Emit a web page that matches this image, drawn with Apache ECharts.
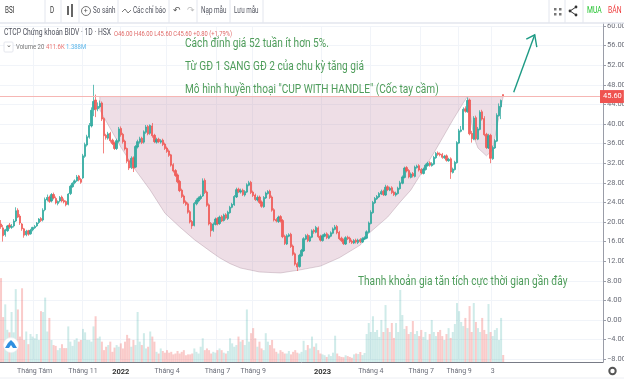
<!DOCTYPE html>
<html><head><meta charset="utf-8">
<style>html,body{margin:0;padding:0;background:#fff}#c{width:624px;height:381px}</style>
<script src="https://cdn.jsdelivr.net/npm/echarts@6/dist/echarts.min.js"></script>
</head><body><div id="c"></div>
<script>
const closes=[19.0,17.2,18.4,19.2,19.0,19.1,20.2,22.3,21.0,19.8,
18.6,17.3,18.1,17.5,18.3,18.9,19.1,19.8,20.6,20.3,
22.4,24.6,25.0,24.2,25.6,24.9,23.9,24.2,25.0,24.3,
24.1,23.5,25.7,27.3,27.9,28.4,29.2,28.6,28.1,33.5,
35.8,37.4,39.7,42.8,44.6,43.0,43.6,44.2,41.0,37.6,
37.2,38.0,36.6,36.0,35.0,36.6,39.0,37.8,36.4,34.9,
32.4,31.0,33.0,31.0,35.4,36.4,37.0,36.2,38.4,39.4,
38.0,39.7,37.6,36.4,36.8,36.4,36.6,35.8,35.0,34.4,
33.6,31.6,30.4,29.5,28.2,26.4,25.2,24.0,23.6,22.0,
20.0,19.2,23.8,24.4,24.9,25.2,28.4,26.0,23.4,19.6,
18.2,19.6,20.6,19.6,21.0,20.2,21.4,20.8,22.0,23.0,
23.6,25.2,26.6,26.2,26.4,25.6,26.2,27.6,28.0,26.0,
25.4,24.6,25.0,24.0,23.2,25.0,25.9,26.2,25.0,22.4,
20.4,20.2,21.0,20.2,17.0,15.6,17.2,17.4,15.0,13.4,
11.4,10.8,13.2,14.2,16.6,17.2,16.2,17.0,18.2,18.0,
18.9,17.0,16.3,17.2,17.5,16.8,17.2,17.8,18.6,19.0,
17.8,16.6,16.2,15.6,16.8,16.6,16.0,15.8,16.2,15.9,
16.3,16.0,16.6,16.8,18.0,19.8,22.0,24.0,24.8,25.2,
25.8,26.2,25.6,27.1,26.6,26.9,26.0,25.6,25.9,26.9,
28.0,29.2,31.0,30.4,29.2,29.8,29.4,31.2,31.4,30.6,
30.0,30.8,31.6,32.0,31.6,31.9,33.2,34.0,33.8,33.7,
33.2,33.4,32.6,32.8,30.2,30.8,32.2,36.2,38.6,38.8,
43.0,42.6,44.8,38.0,37.0,41.2,37.0,39.0,42.4,41.0,
37.8,35.2,37.6,33.0,35.2,36.6,41.8,43.6,44.8,45.6];
const opens=[19.6,18.8,17.4,18.2,19.4,18.9,19.2,20.2,22.4,21.2,
19.6,18.6,17.4,18.2,17.6,18.4,18.8,19.2,19.9,20.7,
20.4,22.5,24.5,25.1,24.3,25.6,24.8,23.8,24.3,25.1,
24.4,24.2,23.6,25.8,27.2,28.0,28.4,29.4,28.7,29.0,
33.4,35.7,37.3,39.6,42.9,44.9,43.1,43.5,44.3,41.1,
37.7,37.1,38.1,36.7,36.1,35.0,36.5,39.1,37.9,36.5,
35.0,32.5,31.1,33.1,31.2,35.3,36.3,37.1,36.3,38.3,
39.5,38.1,39.6,37.7,36.3,36.9,36.3,36.7,35.9,35.1,
34.5,33.7,31.7,30.5,29.6,28.3,26.5,25.3,24.1,23.7,
22.1,20.1,19.3,23.7,24.3,24.8,25.3,28.5,26.1,23.5,
19.7,18.3,19.5,20.7,19.7,21.1,20.3,21.5,20.7,21.9,
23.0,23.5,25.1,26.7,26.1,26.5,25.5,26.1,27.5,28.1,
26.1,25.5,24.5,25.1,24.1,23.1,24.9,25.8,26.3,25.1,
22.5,20.5,20.1,21.1,20.3,17.1,15.5,17.1,17.5,15.1,
13.5,11.5,10.9,13.1,14.1,16.5,17.3,16.1,16.9,18.3,
17.9,18.8,17.1,16.2,17.1,17.6,16.7,17.1,17.7,18.5,
19.1,17.9,16.7,16.3,15.5,16.9,16.7,16.1,15.7,16.3,
15.8,16.4,15.9,16.5,16.7,17.9,19.7,21.9,23.9,24.7,
25.1,25.7,26.3,25.5,27.2,26.5,27.0,26.1,25.5,25.8,
26.8,27.9,29.1,31.1,30.5,29.1,29.9,29.3,31.1,31.5,
30.7,29.9,30.7,31.5,32.1,31.5,31.8,33.1,34.1,33.9,
33.8,33.1,33.5,32.5,32.9,30.1,30.7,32.1,36.1,38.5,
38.9,43.1,42.5,44.9,38.1,36.9,41.3,36.9,38.9,42.5,
41.1,37.9,35.1,37.7,32.9,35.1,36.5,41.7,43.5,46.0];
const highs=[20.4,19.4,18.6,19.4,19.8,19.6,20.6,23.0,22.8,21.6,
19.8,18.8,18.4,18.4,18.6,19.0,19.4,20.0,20.8,21.0,
22.8,25.0,25.6,25.4,25.9,26.0,25.2,24.4,25.3,25.4,
24.8,24.4,25.9,27.6,28.1,28.7,29.6,29.6,29.0,33.9,
36.2,37.8,40.2,43.4,48.0,46.0,44.4,44.8,44.6,41.4,
38.0,38.4,38.4,37.0,36.4,37.0,39.4,39.5,38.2,36.8,
35.2,32.8,33.4,33.4,35.7,36.8,37.4,37.4,38.7,39.8,
39.8,39.9,40.2,38.0,37.2,37.2,36.9,37.0,36.2,35.4,
34.8,33.9,32.0,30.8,29.9,28.6,26.8,25.6,24.4,24.0,
22.4,20.4,24.1,24.8,25.2,25.6,28.9,28.9,26.4,23.8,
20.0,19.9,20.9,21.0,21.3,21.4,21.7,21.8,22.3,23.3,
23.9,25.5,27.0,27.0,26.8,26.8,26.5,27.9,28.4,28.4,
26.4,25.8,25.4,25.4,24.4,25.3,26.2,26.5,26.6,25.4,
22.8,20.8,21.3,21.4,20.6,17.4,17.5,17.7,17.8,15.4,
13.8,11.8,13.5,14.5,16.9,17.5,17.6,17.3,18.5,18.6,
19.2,19.1,17.4,17.5,17.8,17.9,17.5,18.1,18.9,19.4,
19.4,18.2,17.0,16.6,17.1,17.2,17.0,16.4,16.5,16.6,
16.6,16.7,16.9,17.1,18.3,20.1,22.4,24.3,25.1,25.5,
26.1,26.6,26.6,27.6,27.5,27.2,27.3,26.4,26.2,27.2,
28.4,29.5,31.3,31.4,30.8,30.1,30.2,31.5,31.7,31.8,
31.0,31.1,31.9,32.3,32.4,32.2,33.5,34.3,34.4,34.2,
34.1,33.7,33.8,33.1,33.2,31.1,32.5,36.5,39.0,39.6,
43.4,43.6,45.4,45.2,38.6,41.6,41.7,39.4,42.8,42.9,
41.6,38.2,38.0,38.0,35.6,36.9,42.2,44.2,45.0,46.0];
const lows=[18.6,16.0,17.0,18.0,18.6,18.6,18.9,20.0,20.8,19.4,
18.2,16.8,17.1,17.2,17.4,18.1,18.6,19.0,19.6,20.0,
20.1,22.2,24.2,23.9,24.0,24.6,23.6,23.4,24.0,24.0,
23.8,23.2,23.4,25.5,27.0,27.7,28.2,28.3,27.8,28.8,
33.1,35.4,37.0,39.3,41.6,41.4,42.6,43.2,40.6,34.0,
36.8,36.8,36.2,35.7,34.7,34.7,36.2,37.4,36.0,34.6,
32.0,30.6,30.8,30.2,31.0,35.0,36.0,35.9,36.0,38.0,
37.7,37.8,37.2,36.1,36.0,36.1,36.0,35.5,34.7,34.1,
33.3,31.3,30.1,29.2,27.9,26.1,24.9,23.7,23.3,21.7,
19.7,18.6,19.1,23.4,24.0,24.5,25.1,25.7,23.1,19.3,
17.0,18.0,19.3,19.3,19.4,20.0,20.1,20.5,20.4,21.7,
22.8,23.3,24.9,25.9,25.8,25.3,25.2,25.9,27.3,25.7,
25.1,24.3,24.2,23.7,22.9,22.9,24.7,25.6,24.7,22.1,
20.1,19.9,19.8,19.9,16.7,15.3,15.3,16.9,14.7,13.1,
11.1,10.0,10.7,12.9,13.9,16.3,15.9,15.9,16.7,17.6,
17.7,16.7,16.0,16.0,16.9,16.5,16.5,16.9,17.5,18.3,
17.5,16.3,15.9,15.3,15.3,16.3,15.7,15.5,15.5,15.6,
15.5,15.7,15.7,16.3,16.5,17.7,19.5,21.7,23.7,24.5,
24.9,25.5,25.3,25.3,26.3,26.3,25.7,25.3,25.2,25.6,
26.6,27.7,28.9,30.1,28.9,28.9,29.1,29.1,30.9,30.3,
29.7,29.7,30.5,31.3,31.3,31.3,31.6,32.9,33.5,33.4,
32.9,32.9,32.3,32.3,28.8,29.9,30.5,31.9,35.9,38.3,
38.7,42.3,42.3,37.7,36.2,36.7,36.7,36.7,38.7,40.7,
37.5,34.9,34.9,32.0,32.7,34.9,36.3,41.5,41.0,45.6];
const volumes=[4950,2650,3400,1900,1750,2950,1750,4300,3100,1500,
4350,1300,1800,1050,1650,1500,1400,1650,1300,3000,
2950,3800,1800,2600,1300,1000,950,700,820,1050,
820,820,2100,1200,950,1300,1400,1200,1300,1950,
1750,1300,1300,1200,2100,2700,1400,1500,1200,700,
900,1000,1200,600,850,1000,900,1100,800,1200,
1600,1400,900,1300,1000,2950,1200,1000,1700,800,
900,1800,1500,1200,600,500,800,650,550,700,
550,600,450,500,650,500,600,700,400,450,
450,500,800,600,500,900,1400,700,800,700,
500,600,550,700,800,700,550,500,650,1400,
1100,900,1000,1500,1200,1300,1000,3100,1200,1700,
2000,1400,900,1200,800,700,1700,1200,1000,1300,
800,600,500,700,600,500,500,650,450,600,
700,550,500,600,1250,700,1000,800,1500,900,
1100,700,500,450,400,300,450,350,550,1550,
500,350,300,280,400,350,300,250,450,500,
470,590,410,530,1650,2300,1770,2700,1770,1890,
1480,2480,1770,3360,2000,1770,2300,1420,2300,1770,
4250,2770,1950,2120,1650,1770,2420,1650,1830,1530,
1890,1480,1770,1300,1650,2480,1770,1530,1770,1890,
1530,1300,1650,2000,1420,1770,2240,3480,3000,2360,
2120,2600,2000,3300,1770,3480,2360,2000,1770,2600,
1890,1650,3420,1770,1530,1890,2000,1300,2600,412];
const slotCount=287;
const categories=Array.from({length:slotCount},(_,i)=>String(i));
const tickIndex=[16,39,57,79,103,120,153,176,200,218,234];
const tickText=['Tháng Tám','Tháng 11','2022','Tháng 4','Tháng 7','Tháng 9','2023','Tháng 4','Tháng 7','Tháng 9','3'];
const cupOutline=[[47,45.6],[47,42.9],[51,39.8],[57,35.3],[64,30.6],[71,26.5],[78,21.8],[85,19.0],[92,16.4],[100,13.9],[104,12.7],[109,11.5],[114,10.6],[123,9.8],[133,9.6],[142,10.2],[152,11.0],[161,12.7],[171,15.3],[174,17.3],[184,21.0],[190,24.1],[195,26.5],[201,30.6],[206,34.1],[215,40.8],[220,44.3],[222,45.6],[223,43.0],[225,37.3],[227,35.1],[231,33.5],[234,34.7],[236,39.4],[239,45.6]];
const arrowLine=[[244,46.5],[254,58.2]];
const arrowHead=[[250,57.3],[254,58.2],[255,55.7]];
const lastPrice=45.6;

const TEAL='#26a69a',RED='#ef5350',TXT='#50535e',BORDER='#e3e6ee';
const ff='Roboto,sans-serif';
const candles=closes.map((c,i)=>[opens[i],c,lows[i],highs[i]]);
const volBars=volumes.map((v,i)=>({value:v,itemStyle:{color:closes[i]>=opens[i]?'rgba(38,166,154,0.22)':'rgba(239,83,80,0.3)'}}));
const t=(text,x,y,size,fill,k)=>({type:'text',silent:true,z:50,x,y,scaleX:k||0.74,style:{text,x:0,y:0,fill,font:`${size}px ${ff}`,textVerticalAlign:'middle'}});
const noteText=(text,x,y)=>({type:'text',silent:true,z:50,x,y,scaleX:0.75,style:{text,x:0,y:0,fill:'#4f9d5b',font:`13.5px ${ff}`,textVerticalAlign:'middle'}});
const vline=(x,y1,y2)=>({type:'line',silent:true,z:40,shape:{x1:x,y1,x2:x,y2},style:{stroke:BORDER,lineWidth:1}});
const rect=(x,y,w,h,c)=>({type:'rect',silent:true,z:50,shape:{x,y,width:w,height:h},style:{fill:c}});
const dot=(cx,cy)=>({type:'circle',silent:true,z:50,shape:{cx,cy,r:1.4},style:{fill:'#333'}});

const chart=echarts.init(document.getElementById('c'),null,{renderer:'canvas'});
chart.setOption({
 animation:false,backgroundColor:'#fff',
 grid:[{left:0,top:26,width:603,height:333.2,outerBoundsMode:'none'},{left:0,top:23,width:603,height:339,outerBoundsMode:'none'}],
 xAxis:[
  {type:'category',gridIndex:0,data:categories,boundaryGap:true,axisLine:{show:false},axisTick:{show:false},axisLabel:{show:false},
   splitLine:{show:true,interval:(i)=>tickIndex.includes(i),lineStyle:{color:'#f1f4f9',width:1}}},
  {type:'category',gridIndex:1,data:categories,boundaryGap:true,axisLine:{show:true,lineStyle:{color:'#787b86',width:1}},axisTick:{show:false},
   axisLabel:{show:true,hideOverlap:false,color:'#6a6d78',fontSize:7,fontFamily:ff,margin:6,
    interval:(i)=>tickIndex.includes(i),
    formatter:(v,i)=>{const k=tickIndex.indexOf(i);if(k<0)return '';const s=tickText[k];return /^20/.test(s)?`{b|${s}}`:s;},
    rich:{b:{fontSize:7.5,fontWeight:'bold',color:'#333',fontFamily:ff}}}}
 ],
 yAxis:[
  {type:'value',gridIndex:0,position:'right',min:-8,max:60,interval:4,axisLine:{show:false},axisTick:{show:true,length:3,lineStyle:{color:'#9a9da8'}},
   axisLabel:{color:'#6a6d78',fontSize:7.5,fontFamily:ff,margin:4,formatter:(v)=>(v<0?'−':'')+Math.abs(v).toFixed(2)},
   splitLine:{show:true,lineStyle:{color:'#f1f4f9',width:1}}},
  {type:'value',gridIndex:1,position:'right',min:0,max:20000,axisLine:{show:true,lineStyle:{color:'#9a9da8'}},axisTick:{show:false},axisLabel:{show:false},splitLine:{show:false}}
 ],
 series:[
  {name:'Volume',type:'bar',xAxisIndex:1,yAxisIndex:1,data:volBars,barWidth:2,z:1,silent:true},
  {name:'Cup',type:'custom',xAxisIndex:0,yAxisIndex:0,z:2,silent:true,clip:false,data:[[0]],
   renderItem:(p,api)=>({type:'polygon',shape:{points:cupOutline.map(q=>api.coord(q)),smooth:0},style:{fill:'rgba(188,125,155,0.25)',stroke:'rgba(160,130,145,0.35)',lineWidth:1}})},
  {name:'BSI',type:'candlestick',xAxisIndex:0,yAxisIndex:0,data:candles,barWidth:1.8,z:3,silent:true,
   itemStyle:{color:TEAL,color0:RED,borderColor:TEAL,borderColor0:RED,borderWidth:0.8,opacity:0.9},
   markLine:{silent:true,symbol:'none',animation:false,precision:2,lineStyle:{color:'#f6b6b4',type:'solid',width:1},
    label:{show:true,position:'end',distance:-3,formatter:()=>lastPrice.toFixed(2),color:'#fff',backgroundColor:RED,padding:[3,2,2,3],fontSize:7.5,fontFamily:ff},
    data:[{yAxis:lastPrice}]}},
  {name:'Arrow',type:'custom',xAxisIndex:0,yAxisIndex:0,z:4,silent:true,clip:false,data:[[0]],
   renderItem:(p,api)=>({type:'group',children:[
    {type:'polyline',shape:{points:arrowLine.map(q=>api.coord(q))},style:{stroke:'#1d9a84',lineWidth:1.4,fill:'none'}},
    {type:'polyline',shape:{points:arrowHead.map(q=>api.coord(q))},style:{stroke:'#1d9a84',lineWidth:1.4,fill:'none'}}]})}
 ],
 graphic:[
  {type:'line',silent:true,z:40,shape:{x1:0,y1:23,x2:624,y2:23},style:{stroke:BORDER,lineWidth:1.5}},
  {type:'line',silent:true,z:40,shape:{x1:0,y1:378,x2:624,y2:378},style:{stroke:'#eceef3',lineWidth:1}},
  ...[45,61,79,118,169,197,230,263,549,565,583].map(x=>vline(x,0,23)),
  t('BSI',5,11,8.5,'#333'),t('D',50,11,8.5,'#333'),
  rect(67,6,2,9,'#666'),rect(71,4,2,13,'#666'),
  {type:'circle',silent:true,z:50,shape:{cx:86,cy:11,r:4.5},style:{fill:'none',stroke:'#555',lineWidth:0.8}},
  t('+',83.8,11,7,'#555',1),
  t('So sánh',93,11,8.5,TXT),
  {type:'polyline',silent:true,z:50,shape:{points:[[122,12],[125,9],[128,13],[131,10]]},style:{fill:'none',stroke:'#555',lineWidth:0.8}},
  t('Các chỉ báo',133,11,8.5,TXT),
  t('↶',173,11,9,'#555',1),t('↷',187,11,9,'#bbb',1),
  t('Nạp mẫu',201,11,8.5,TXT),t('Lưu mẫu',234,11,8.5,TXT),
  {type:'polyline',silent:true,z:50,shape:{points:[[576,7],[570,11],[576,15]]},style:{fill:'none',stroke:'#333',lineWidth:1}},
  dot(576,7),dot(570,11),dot(576,15),
  ...[[554,8],[559,8],[554,13],[559,13]].map(p=>rect(p[0],p[1],2.5,2.5,'#777')),
  t('MUA',587,11,8.5,'#22c32e',0.8),t('BÁN',608,11,8.5,'#ef3a3a',0.8),
  t('CTCP Chứng khoán BIDV · 1D · HSX',4,33,8.5,TXT,0.8),
  t('O46.00 H46.00 L45.60 C45.60 +0.80 (+1.79%)',114,34,7,'#e06a68',0.83),
  {type:'rect',silent:true,z:50,shape:{x:4,y:42,width:9,height:10,r:1},style:{fill:'#fff',stroke:'#dde0e8',lineWidth:0.8}},
  t('⌄',6,45,7,'#555',1),
  t('Volume 20',16,47,7,'#777',0.85),t('411.6K',46,47,7,'#ea7370',0.85),t('1.388M',66,47,7,'#5bb6ea',0.85),
  noteText('Cách đỉnh giá 52 tuần ít hơn 5%.',185,44),
  noteText('Từ GĐ 1 SANG GĐ 2 của chu kỳ tăng giá',185,67),
  noteText('Mô hình huyền thoại "CUP WITH HANDLE" (Cốc tay cầm)',185,90),
  noteText('Thanh khoản gia tăn tích cực thời gian gần đây',358,282),
  {type:'circle',silent:true,z:50,shape:{cx:11,cy:345,r:7.5},style:{fill:'#fff',stroke:'#eef0f4',lineWidth:0.6}},
  {type:'polygon',silent:true,z:51,shape:{points:[[5,348],[8,343],[11,340],[14,343],[17,348]]},style:{fill:'#2f8fe0'}},
  {type:'polygon',silent:true,z:52,shape:{points:[[9,348],[11,345],[13,348]]},style:{fill:'#fff'}},
  {type:'ring',silent:true,z:50,shape:{cx:612.5,cy:371,r:4.2,r0:2.2},style:{fill:'#555'}}
 ]
});
</script></body></html>
